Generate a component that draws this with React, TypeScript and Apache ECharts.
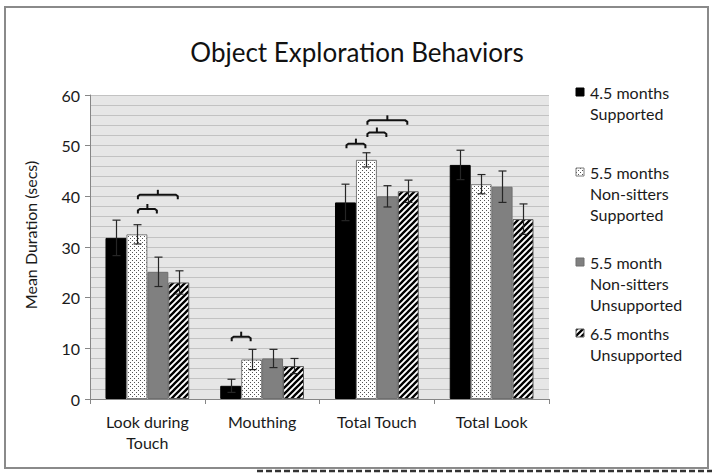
import React, { useEffect, useRef } from "react";
import * as echarts from "echarts";

const categories = ["Look during\nTouch", "Mouthing", "Total Touch", "Total Look"];
const seriesNames = [
  "4.5 months\nSupported",
  "5.5 months\nNon-sitters\nSupported",
  "5.5 month\nNon-sitters\nUnsupported",
  "6.5 months\nUnsupported",
];
const s45Supported = [31.8, 2.6, 38.8, 46.2];
const s55NonSittersSupported = [32.5, 7.8, 47.2, 42.4];
const s55NonSittersUnsupported = [25.1, 8.0, 40.0, 41.9];
const s65Unsupported = [23.0, 6.5, 41.0, 35.5];
const err45Supported = [3.5, 1.3, 3.6, 2.9];
const err55NonSittersSupported = [1.9, 2.0, 1.4, 1.9];
const err55NonSittersUnsupported = [2.9, 1.8, 2.1, 3.1];
const err65Unsupported = [2.3, 1.5, 2.2, 3.0];
// [category index, from series, to series, height]
const brackets = [
  [0, 1, 2, 37.5],
  [0, 1, 3, 40.3],
  [1, 0, 1, 12.3],
  [2, 0, 1, 50.4],
  [2, 1, 2, 52.6],
  [2, 1, 3, 55.0],
];
const yTicks = [0, 10, 20, 30, 40, 50, 60];

const GAP = 0.27;
const FONT = "Lato, 'Open Sans', sans-serif";

function makeDots() {
  const c = document.createElement("canvas");
  c.width = 4;
  c.height = 4;
  const g = c.getContext("2d")!;
  g.fillStyle = "#ffffff";
  g.fillRect(0, 0, 4, 4);
  g.fillStyle = "#555555";
  g.fillRect(0, 0, 1, 1);
  g.fillRect(2, 2, 1, 1);
  return c;
}

function makeHatch() {
  const s = 6;
  const c = document.createElement("canvas");
  c.width = s;
  c.height = s;
  const g = c.getContext("2d")!;
  g.fillStyle = "#ffffff";
  g.fillRect(0, 0, s, s);
  g.strokeStyle = "#000000";
  g.lineWidth = 2.3;
  g.beginPath();
  g.moveTo(-1, s + 1);
  g.lineTo(s + 1, -1);
  g.moveTo(-1, 1);
  g.lineTo(1, -1);
  g.moveTo(s - 1, s + 1);
  g.lineTo(s + 1, s - 1);
  g.stroke();
  return c;
}

export default function App() {
  const ref = useRef<HTMLDivElement>(null);
  useEffect(() => {
    if (!ref.current) return;
    const chart = echarts.init(ref.current, undefined, { renderer: "svg" });
    const dots = { image: makeDots(), repeat: "repeat" } as any;
    const hatch = { image: makeHatch(), repeat: "repeat" } as any;
    const fills: any[] = ["#000000", dots, "#808080", hatch];
    const borders = ["#000000", "#7a7a7a", "#6e6e6e", "#595959"];
    const values = [s45Supported, s55NonSittersSupported, s55NonSittersUnsupported, s65Unsupported];
    const errs = [err45Supported, err55NonSittersSupported, err55NonSittersUnsupported, err65Unsupported];

    const barSeries = values.map((v, k) => ({
      type: "bar",
      name: seriesNames[k],
      data: v,
      barGap: "0%",
      barCategoryGap: GAP * 100 + "%",
      itemStyle: { color: fills[k], borderColor: borders[k], borderWidth: 1 },
      z: 2,
    }));

    const errSeries = values.map((v, k) => ({
      type: "custom",
      name: "err" + k,
      data: v.map((val, i) => [i, val - errs[k][i], val + errs[k][i]]),
      encode: { x: 0, y: [1, 2] },
      z: 3,
      silent: true,
      renderItem: (params: any, api: any) => {
        const ci = api.value(0);
        const catW = api.size([1, 0])[0];
        const bw = (catW * (1 - GAP)) / 4;
        const x = Math.round(api.coord([ci, 0])[0] + (k - 1.5) * bw) + 0.5;
        const yLo = api.coord([ci, api.value(1)])[1];
        const yHi = api.coord([ci, api.value(2)])[1];
        const st = { stroke: "#262626", lineWidth: 1.2 };
        return {
          type: "group",
          children: [
            { type: "line", shape: { x1: x, y1: yLo, x2: x, y2: yHi }, style: st },
            { type: "line", shape: { x1: x - 4, y1: yHi, x2: x + 4, y2: yHi }, style: st },
            { type: "line", shape: { x1: x - 4, y1: yLo, x2: x + 4, y2: yLo }, style: st },
          ],
        };
      },
    }));

    const bracketSeries = {
      type: "custom",
      name: "brackets",
      data: brackets,
      encode: { x: 0, y: 3 },
      z: 4,
      silent: true,
      renderItem: (params: any, api: any) => {
        const ci = api.value(0);
        const from = api.value(1);
        const to = api.value(2);
        const catW = api.size([1, 0])[0];
        const bw = (catW * (1 - GAP)) / 4;
        const c = api.coord([ci, api.value(3)]);
        const x1 = c[0] + (from - 1.5) * bw + 1;
        const x2 = c[0] + (to - 1.5) * bw - 1;
        const y = c[1];
        const xm = (x1 + x2) / 2;
        const st = { stroke: "#111111", lineWidth: 2, fill: null };
        return {
          type: "group",
          children: [
            {
              type: "polyline",
              shape: {
                points: [
                  [x1, y + 4.5],
                  [x1, y + 1.5],
                  [x1 + 2, y],
                  [x2 - 2, y],
                  [x2, y + 1.5],
                  [x2, y + 4.5],
                ],
              },
              style: st,
            },
            { type: "line", shape: { x1: xm, y1: y, x2: xm, y2: y - 5 }, style: st },
          ],
        };
      },
    };

    // legend drawn as graphics (icons aligned with first line)
    const legendTops = [92, 172, 262, 333];
    const legendGraphics: any[] = [];
    seriesNames.forEach((n, k) => {
      legendGraphics.push({
        type: "rect",
        shape: { x: 576, y: legendTops[k] - 4, width: 8, height: 8 },
        style: { fill: fills[k], stroke: borders[k], lineWidth: 1 },
      });
      legendGraphics.push({
        type: "text",
        x: 590,
        y: legendTops[k] - 10.5,
        style: {
          text: n,
          font: "16px " + FONT,
          fill: "#1a1a1a",
          lineHeight: 21,
          verticalAlign: "top",
          align: "left",
        },
      });
    });

    chart.setOption({
      animation: false,
      textStyle: { fontFamily: FONT },
      title: {
        text: "Object Exploration Behaviors",
        left: "center",
        top: 34,
        textStyle: { fontFamily: FONT, fontSize: 26, fontWeight: "normal", color: "#111" },
      },
      grid: {
        left: 90,
        top: 95,
        right: 165,
        bottom: 76,
        show: true,
        backgroundColor: "#e6e6e6",
        borderWidth: 0,
      },
      xAxis: {
        type: "category",
        data: categories,
        axisLine: { lineStyle: { color: "#868686", width: 1 } },
        axisTick: { show: true, length: 5, lineStyle: { color: "#868686" } },
        axisLabel: { fontSize: 16, color: "#1a1a1a", lineHeight: 21, margin: 12, fontFamily: FONT },
      },
      yAxis: {
        type: "value",
        min: yTicks[0],
        max: yTicks[yTicks.length - 1],
        interval: 10,
        name: "Mean Duration (secs)",
        nameLocation: "middle",
        nameGap: 52,
        nameTextStyle: { fontSize: 16, color: "#1a1a1a", fontFamily: FONT, padding: [0, 0, 0, 24] },
        axisLine: { show: true, lineStyle: { color: "#868686", width: 1 } },
        axisTick: { show: true, length: 5, lineStyle: { color: "#868686" } },
        axisLabel: { fontSize: 16, color: "#1a1a1a", margin: 10, fontFamily: FONT },
        splitLine: { show: true, lineStyle: { color: "#c2c2c2", width: 1 } },
        minorTick: { show: false, splitNumber: 5 },
        minorSplitLine: { show: true, lineStyle: { color: "#c2c2c2", width: 1 } },
      },
      graphic: [
        {
          type: "rect",
          shape: { x: 5, y: 7, width: 703, height: 461 },
          style: { fill: null, stroke: "#8a8a8a", lineWidth: 2 },
          z: 0,
        },
        {
          type: "line",
          shape: { x1: 257, y1: 471, x2: 712, y2: 471 },
          style: { stroke: "#333", lineWidth: 2.5, lineDash: [6, 3] },
        },
        ...legendGraphics,
      ],
      series: [...barSeries, ...errSeries, bracketSeries],
    } as any);
    return () => chart.dispose();
  }, []);
  return (
    <div
      ref={ref}
      style={{ position: "fixed", left: 0, top: 0, width: 714, height: 475, background: "#fff" }}
    />
  );
}
